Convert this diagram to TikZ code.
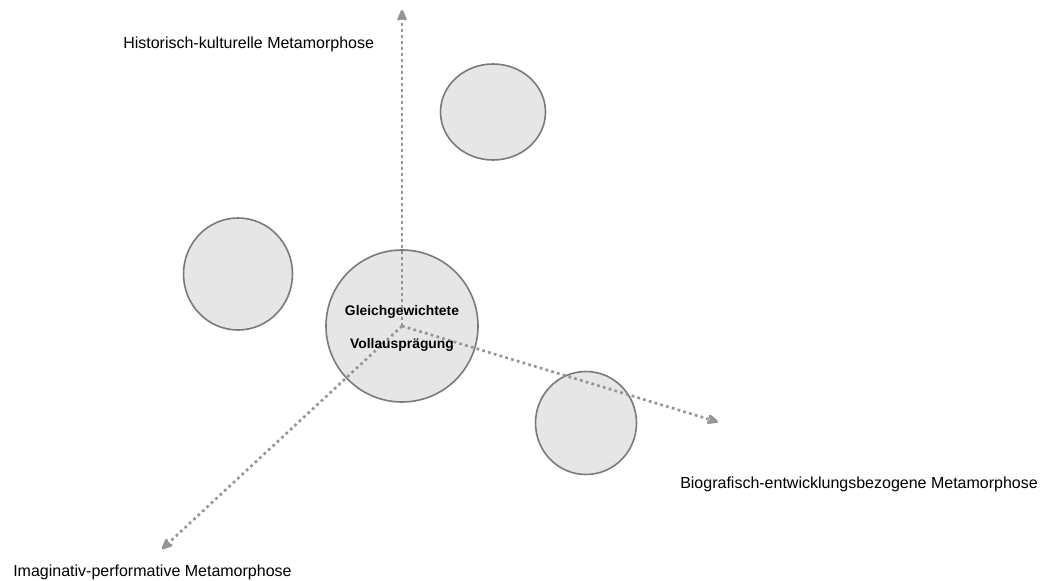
\documentclass[tikz,border=0pt]{standalone}
\usepackage{fontspec}
\setmainfont{Liberation Sans}
\usetikzlibrary{arrows.meta,shapes.geometric}
\definecolor{blobfill}{HTML}{E6E6E6}
\definecolor{blobline}{HTML}{7A7A7A}
\definecolor{axisgray}{HTML}{959595}
\tikzset{
  blob/.style={ellipse, draw=blobline, fill=blobfill, line width=1.2pt, inner sep=0pt},
  axis/.style={draw=axisgray, line width=2pt, dash pattern=on 2pt off 2.5pt,
    -{Stealth[length=11pt, width=9.5pt, inset=3pt, round]}},
  axislabel/.style={anchor=base west, font=\fontsize{12}{14}\selectfont, text=black, inner sep=0pt}
}
\begin{document}
\begin{tikzpicture}[x=0.75pt, y=-0.75pt, line join=round]
	\useasboundingbox (0,0) rectangle (1056,581);
	% Spielräume um das Zentrum
	\node[blob, minimum width=105*0.75pt, minimum height=96*0.75pt] (oben) at (493,112) {};
	\node[blob, minimum width=109*0.75pt, minimum height=112*0.75pt] (links) at (238,274) {};
	\node[blob, minimum width=101*0.75pt, minimum height=103*0.75pt] (unten) at (586,423) {};
	\node[blob, minimum width=152*0.75pt, minimum height=152*0.75pt] (voll) at (402,326) {};
	% Achsen
	\coordinate (hist) at (402,10);
	\coordinate (bio) at (718,422);
	\coordinate (imag) at (162,549);
	\foreach \z in {hist,bio,imag} \draw[axis] (voll.center) -- (\z);
	\node[align=center, font=\bfseries\fontsize{10.4}{24.75}\selectfont, inner sep=0pt] (volltext) at (402,328)
		{Gleichgewichtete\\Vollausprägung};
	\path
	(123,49) node[axislabel] (histlabel) {Historisch-kulturelle Metamorphose}
	(680,488) node[axislabel] (biolabel) {Biografisch-entwicklungsbezogene Metamorphose}
	(13,576) node[axislabel] (imaglabel) {Imaginativ-performative Metamorphose};
\end{tikzpicture}
\end{document}
